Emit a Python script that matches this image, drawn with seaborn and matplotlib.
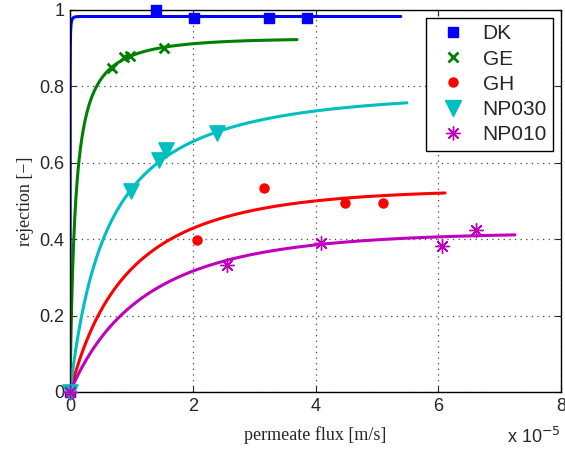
import numpy as np
import pandas as pd
import matplotlib
matplotlib.use("Agg")
import matplotlib.pyplot as plt
import seaborn as sns
from matplotlib.lines import Line2D

# ---- data (flux in units of 1e-5 m/s) ----
membranes = ["DK", "GE", "GH", "NP030", "NP010"]
colors = ["#0000ff", "#008000", "#ff0000", "#00bfbf", "#bf00bf"]
markers = ["s", "x", "o", "v", (8, 2, 0)]
marker_sizes = [7, 7, 6.5, 11, 10]

dk_flux = [0.0, 1.40, 2.02, 3.24, 3.86]
dk_rej = [0.0, 1.00, 0.978, 0.978, 0.978]
ge_flux = [0.0, 0.68, 0.88, 0.98, 1.53]
ge_rej = [0.0, 0.848, 0.877, 0.880, 0.901]
gh_flux = [0.0, 2.07, 3.16, 4.48, 5.10]
gh_rej = [0.0, 0.398, 0.534, 0.495, 0.495]
np030_flux = [0.0, 0.99, 1.45, 1.56, 2.39]
np030_rej = [0.0, 0.527, 0.607, 0.634, 0.678]
np010_flux = [0.0, 2.56, 4.09, 6.06, 6.61]
np010_rej = [0.0, 0.333, 0.390, 0.382, 0.424]

# Spiegler-Kedem fit parameters
sigma = [0.983, 0.925, 0.53, 0.78, 0.417]
perm = [0.0005, 0.0828, 0.86, 0.572, 1.12]      # 1e-5 m/s
flux_max = [5.39, 3.70, 6.11, 5.49, 7.25]

xticks = [0, 2, 4, 6, 8]
yticks = [0, 0.2, 0.4, 0.6, 0.8, 1.0]
ytick_labels = ["0", "0.2", "0.4", "0.6", "0.8", "1"]

fluxes = [dk_flux, ge_flux, gh_flux, np030_flux, np010_flux]
rejs = [dk_rej, ge_rej, gh_rej, np030_rej, np010_rej]

points = pd.concat([pd.DataFrame({"membrane": m, "flux": f, "rej": r})
                    for m, f, r in zip(membranes, fluxes, rejs)], ignore_index=True)

curves = []
for m, s, p, xm in zip(membranes, sigma, perm, flux_max):
    x = np.concatenate([np.linspace(0, 0.05, 200), np.linspace(0.05, xm, 400)])
    F = np.exp(-x * (1 - s) / p)
    R = s * (1 - F) / (1 - s * F)
    curves.append(pd.DataFrame({"membrane": m, "flux": x, "rej": R}))
curves = pd.concat(curves, ignore_index=True)

sns.set_style("white")
plt.rcParams["font.family"] = ["Liberation Sans", "DejaVu Sans"]

fig = plt.figure(figsize=(5.65, 4.54), dpi=100)
ax = fig.add_axes([70 / 565, 1 - 392 / 454, 491 / 565, 382 / 454])

palette = dict(zip(membranes, colors))
sns.lineplot(data=curves, x="flux", y="rej", hue="membrane", palette=palette,
             hue_order=membranes, lw=2.2, legend=False, ax=ax, sort=False,
             estimator=None)

for m, c, mk, ms in zip(membranes, colors, markers, marker_sizes):
    sub = points[points.membrane == m]
    mew = 2 if mk == "x" else (1.0 if isinstance(mk, tuple) else 1)
    sns.scatterplot(data=sub, x="flux", y="rej", ax=ax, color=c, marker=mk,
                    s=(ms ** 2), linewidth=mew, edgecolor=c if mk != "x" else None,
                    clip_on=False, zorder=5, legend=False)

ax.set_xlim(0, 8)
ax.set_ylim(0, 1)
ax.set_xticks(xticks)
ax.set_xticklabels([str(t) for t in xticks])
ax.set_yticks(yticks)
ax.set_yticklabels(ytick_labels)
ax.tick_params(direction="in", length=4, width=0.8, labelsize=13,
               top=True, right=True, bottom=True, left=True, pad=4)
ax.grid(True, linestyle=(0, (1, 3.5)), color="#444444", linewidth=0.9)
for sp in ax.spines.values():
    sp.set_color("black")
    sp.set_linewidth(1.0)

ax.set_xlabel("permeate flux [m/s]", family=["Liberation Serif"], fontsize=13, labelpad=8)
ax.set_ylabel("rejection [\u2212]", family=["Liberation Serif"], fontsize=13, labelpad=4)
ax.text(1.0, -0.133, "x 10$^{-5}$", transform=ax.transAxes, ha="right",
        va="baseline", fontsize=13)

handles = [Line2D([], [], linestyle="none", marker=mk, color=c, markersize=ms,
                  markeredgewidth=(2 if mk == "x" else 1.0), markeredgecolor=c)
           for c, mk, ms in zip(colors, markers, marker_sizes)]
leg = ax.legend(handles, membranes, loc="upper right", fontsize=15, frameon=True,
                fancybox=False, edgecolor="black", framealpha=1, borderpad=0.3,
                handletextpad=0.4, labelspacing=0.3, handlelength=2.0,
                borderaxespad=0, bbox_to_anchor=(0.984, 0.979))
leg.get_frame().set_linewidth(1.0)

fig.savefig("out.png", dpi=100)
